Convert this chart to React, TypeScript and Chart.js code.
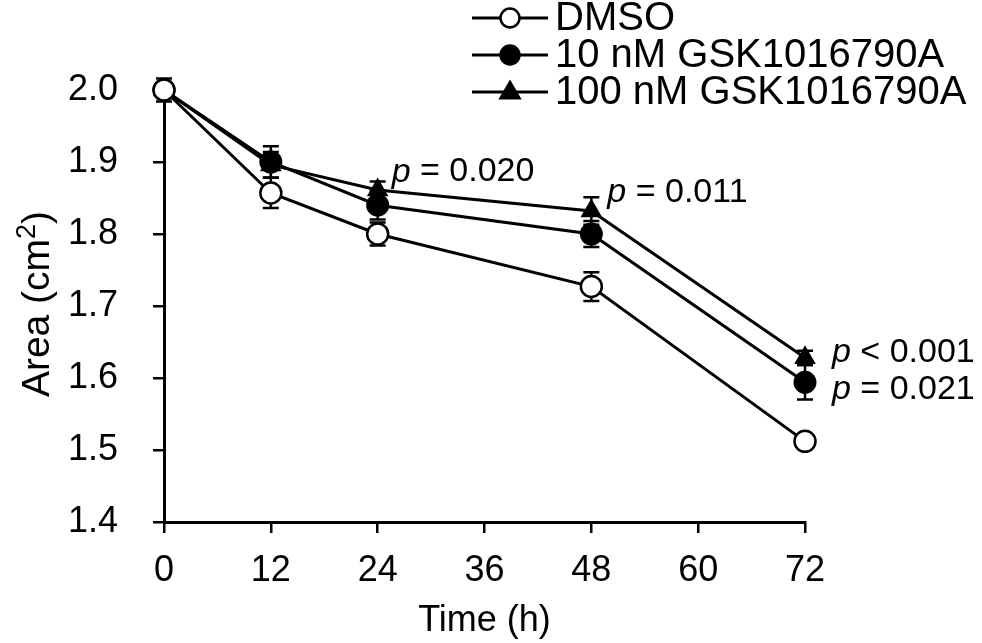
import React, { useEffect, useRef } from "react";
import { Chart, registerables } from "chart.js";

Chart.register(...registerables);

const times = [0, 12, 24, 48, 72];
const seriesNames = ["DMSO", "10 nM GSK1016790A", "100 nM GSK1016790A"];
const dmso = [2.0, 1.857, 1.8, 1.727, 1.512];
const dmsoErr = [0.007, 0.021, 0.016, 0.02, 0.004];
const nm10 = [2.0, 1.9, 1.84, 1.8, 1.594];
const nm10Err = [0.011, 0.022, 0.02, 0.018, 0.024];
const nm100 = [2.0, 1.896, 1.861, 1.832, 1.628];
const nm100Err = [0.016, 0.018, 0.012, 0.019, 0.01];
const xTicks = [0, 12, 24, 36, 48, 60, 72];
const yTicks = [1.4, 1.5, 1.6, 1.7, 1.8, 1.9, 2.0];
const xTitle = "Time (h)";
const yTitleParts = ["Area (cm", "2", ")"];

// p-value annotations: [datasetIndex, pointIndex, italic part, rest, dx, dy]
const pNotes: [number, number, string, string, number, number][] = [
  [2, 2, "p", " = 0.020", 14, -18],
  [2, 3, "p", " = 0.011", 16, -18],
  [2, 4, "p", " < 0.001", 27, -5],
  [1, 4, "p", " = 0.021", 27, 7],
];

const FONT = "'Liberation Sans', Arial, Helvetica, sans-serif";
const errs = [dmsoErr, nm10Err, nm100Err];

const errorBarPlugin = {
  id: "errorBars",
  beforeDatasetsDraw(chart: any) {
    const ctx = chart.ctx;
    const y = chart.scales.y;
    ctx.save();
    ctx.strokeStyle = "#000";
    ctx.lineWidth = 2.5;
    chart.data.datasets.forEach((ds: any, i: number) => {
      const meta = chart.getDatasetMeta(i);
      meta.data.forEach((pt: any, j: number) => {
        const v = ds.data[j].y;
        const e = errs[i][j];
        const top = y.getPixelForValue(v + e);
        const bot = y.getPixelForValue(v - e);
        const x = pt.x;
        ctx.beginPath();
        ctx.moveTo(x, top);
        ctx.lineTo(x, bot);
        ctx.moveTo(x - 8, top);
        ctx.lineTo(x + 8, top);
        ctx.moveTo(x - 8, bot);
        ctx.lineTo(x + 8, bot);
        ctx.stroke();
      });
    });
    ctx.restore();
  },
};

function drawMarker(ctx: CanvasRenderingContext2D, style: string, fill: string, x: number, y: number, r: number) {
  ctx.beginPath();
  if (style === "triangle") {
    const h = r * 1.7;
    ctx.moveTo(x, y - h * 0.62);
    ctx.lineTo(x + r, y + h * 0.38);
    ctx.lineTo(x - r, y + h * 0.38);
    ctx.closePath();
  } else {
    ctx.arc(x, y, r, 0, Math.PI * 2);
  }
  ctx.fillStyle = fill;
  ctx.fill();
  ctx.lineWidth = 2.5;
  ctx.strokeStyle = "#000";
  ctx.stroke();
}

const annotPlugin = {
  id: "annot",
  afterDraw(chart: any) {
    const ctx = chart.ctx;
    ctx.save();
    ctx.fillStyle = "#000";
    ctx.textBaseline = "middle";
    // p-values
    pNotes.forEach(([di, pi, p, rest, dx, dy]) => {
      const pt = chart.getDatasetMeta(di).data[pi];
      const x = pt.x + dx;
      const yy = pt.y + dy;
      ctx.font = `italic 34px ${FONT}`;
      ctx.textAlign = "left";
      ctx.fillText(p, x, yy);
      const w = ctx.measureText(p).width;
      ctx.font = `34px ${FONT}`;
      ctx.fillText(rest, x + w, yy);
    });
    // y-axis title with superscript
    const ca = chart.chartArea;
    const cy = (ca.top + ca.bottom) / 2 - 2;
    ctx.save();
    ctx.translate(35, cy);
    ctx.rotate(-Math.PI / 2);
    ctx.font = `39px ${FONT}`;
    const w0 = ctx.measureText(yTitleParts[0]).width;
    const w2 = ctx.measureText(yTitleParts[2]).width;
    ctx.font = `27px ${FONT}`;
    const w1 = ctx.measureText(yTitleParts[1]).width;
    const total = w0 + w1 + w2;
    let sx = -total / 2;
    ctx.textAlign = "left";
    ctx.textBaseline = "alphabetic";
    ctx.font = `39px ${FONT}`;
    ctx.fillText(yTitleParts[0], sx, 14);
    sx += w0;
    ctx.font = `27px ${FONT}`;
    ctx.fillText(yTitleParts[1], sx, 0);
    sx += w1;
    ctx.font = `39px ${FONT}`;
    ctx.fillText(yTitleParts[2], sx, 14);
    ctx.restore();
    // legend
    const rows = [18, 55, 92];
    ctx.textBaseline = "middle";
    chart.data.datasets.forEach((ds: any, i: number) => {
      const ry = rows[i];
      ctx.beginPath();
      ctx.moveTo(472, ry);
      ctx.lineTo(548, ry);
      ctx.lineWidth = 3;
      ctx.strokeStyle = "#000";
      ctx.stroke();
      drawMarker(ctx, ds.pointStyle, ds.pointBackgroundColor, 510, ry, 9.5);
      ctx.font = `40px ${FONT}`;
      ctx.textAlign = "left";
      ctx.fillStyle = "#000";
      ctx.fillText(ds.label, 555, ry + 1);
    });
    ctx.restore();
  },
};

export default function App() {
  const ref = useRef<HTMLCanvasElement>(null);
  useEffect(() => {
    if (!ref.current) return;
    const mk = (vals: number[]) => vals.map((v, i) => ({ x: times[i], y: v }));
    const chart = new Chart(ref.current, {
      type: "line",
      data: {
        datasets: [
          {
            label: seriesNames[0],
            data: mk(dmso),
            borderColor: "#000",
            borderWidth: 3,
            pointStyle: "circle",
            pointRadius: 10.5,
            pointBackgroundColor: "#fff",
            pointBorderColor: "#000",
            pointBorderWidth: 2.5,
            clip: false,
          },
          {
            label: seriesNames[1],
            data: mk(nm10),
            borderColor: "#000",
            borderWidth: 3,
            pointStyle: "circle",
            pointRadius: 10.5,
            pointBackgroundColor: "#000",
            pointBorderColor: "#000",
            pointBorderWidth: 2,
            clip: false,
          },
          {
            label: seriesNames[2],
            data: mk(nm100),
            borderColor: "#000",
            borderWidth: 3,
            pointStyle: "triangle",
            pointRadius: 10.5,
            pointBackgroundColor: "#000",
            pointBorderColor: "#000",
            pointBorderWidth: 2,
            clip: false,
          },
        ] as any,
      },
      options: {
        animation: false,
        responsive: false,
        maintainAspectRatio: false,
        layout: { padding: { top: 90, right: 177, bottom: 0, left: 0 } },
        plugins: { legend: { display: false }, tooltip: { enabled: false } },
        scales: {
          x: {
            type: "linear",
            min: 0,
            max: 72,
            afterBuildTicks: (s: any) => {
              s.ticks = xTicks.map((v) => ({ value: v }));
            },
            afterFit: (s: any) => {
              s.height = 121;
            },
            grid: { drawOnChartArea: false, drawTicks: true, tickLength: 11, color: "#000", lineWidth: 2.5 },
            border: { color: "#000", width: 3 },
            ticks: { color: "#000", font: { family: FONT, size: 36 }, padding: 16, maxRotation: 0 },
            title: {
              display: true,
              text: xTitle,
              color: "#000",
              font: { family: FONT, size: 36 },
              padding: { top: 0, bottom: 0 },
            },
          },
          y: {
            type: "linear",
            min: 1.4,
            max: 2.0,
            afterBuildTicks: (s: any) => {
              s.ticks = yTicks.map((v) => ({ value: v }));
            },
            afterFit: (s: any) => {
              s.width = 164;
            },
            grid: { drawOnChartArea: false, drawTicks: true, tickLength: 11, color: "#000", lineWidth: 2.5 },
            border: { color: "#000", width: 3 },
            ticks: {
              color: "#000",
              font: { family: FONT, size: 36 },
              padding: 35,
              callback: (v: any) => Number(v).toFixed(1),
            },
            title: { display: false },
          },
        },
      },
      plugins: [errorBarPlugin, annotPlugin],
    });
    return () => chart.destroy();
  }, []);
  return (
    <div style={{ position: "fixed", left: 0, top: 0, width: 982, height: 643, background: "#fff" }}>
      <canvas ref={ref} width={982} height={643} style={{ width: 982, height: 643, display: "block" }} />
    </div>
  );
}
